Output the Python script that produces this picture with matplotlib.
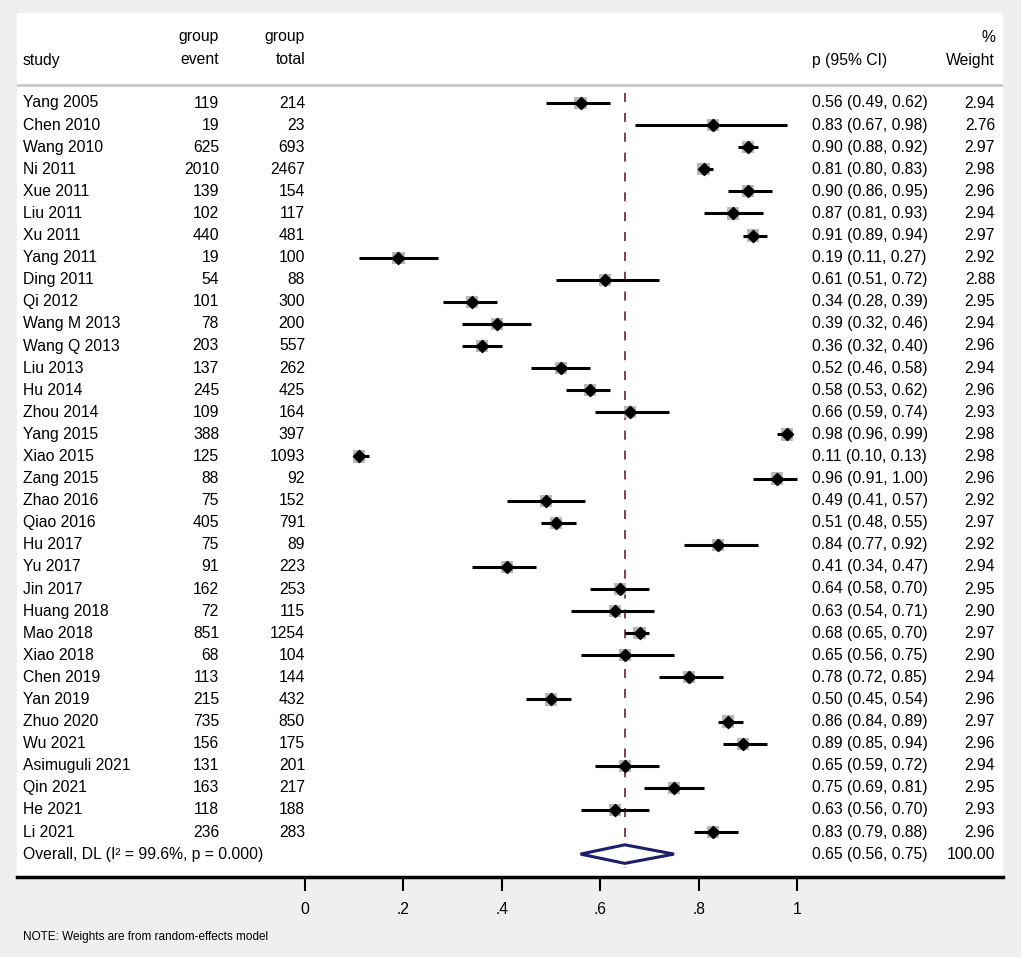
import numpy as np
import matplotlib.pyplot as plt
import matplotlib.transforms as mtransforms
from matplotlib.patches import Polygon

plt.rcParams['font.family'] = ['Liberation Sans', 'DejaVu Sans']

# ---- data ----
studies = ['Yang 2005', 'Chen 2010', 'Wang 2010', 'Ni 2011', 'Xue 2011', 'Liu 2011',
           'Xu 2011', 'Yang 2011', 'Ding 2011', 'Qi 2012', 'Wang M 2013', 'Wang Q 2013',
           'Liu 2013', 'Hu 2014', 'Zhou 2014', 'Yang 2015', 'Xiao 2015', 'Zang 2015',
           'Zhao 2016', 'Qiao 2016', 'Hu 2017', 'Yu 2017', 'Jin 2017', 'Huang 2018',
           'Mao 2018', 'Xiao 2018', 'Chen 2019', 'Yan 2019', 'Zhuo 2020', 'Wu 2021',
           'Asimuguli 2021', 'Qin 2021', 'He 2021', 'Li 2021']
events = [119, 19, 625, 2010, 139, 102, 440, 19, 54, 101, 78, 203, 137, 245, 109, 388,
          125, 88, 75, 405, 75, 91, 162, 72, 851, 68, 113, 215, 735, 156, 131, 163, 118, 236]
totals = [214, 23, 693, 2467, 154, 117, 481, 100, 88, 300, 200, 557, 262, 425, 164, 397,
          1093, 92, 152, 791, 89, 223, 253, 115, 1254, 104, 144, 432, 850, 175, 201, 217, 188, 283]
p_est = [0.56, 0.83, 0.90, 0.81, 0.90, 0.87, 0.91, 0.19, 0.61, 0.34, 0.39, 0.36, 0.52,
         0.58, 0.66, 0.98, 0.11, 0.96, 0.49, 0.51, 0.84, 0.41, 0.64, 0.63, 0.68, 0.65,
         0.78, 0.50, 0.86, 0.89, 0.65, 0.75, 0.63, 0.83]
ci_low = [0.49, 0.67, 0.88, 0.80, 0.86, 0.81, 0.89, 0.11, 0.51, 0.28, 0.32, 0.32, 0.46,
          0.53, 0.59, 0.96, 0.10, 0.91, 0.41, 0.48, 0.77, 0.34, 0.58, 0.54, 0.65, 0.56,
          0.72, 0.45, 0.84, 0.85, 0.59, 0.69, 0.56, 0.79]
ci_high = [0.62, 0.98, 0.92, 0.83, 0.95, 0.93, 0.94, 0.27, 0.72, 0.39, 0.46, 0.40, 0.58,
           0.62, 0.74, 0.99, 0.13, 1.00, 0.57, 0.55, 0.92, 0.47, 0.70, 0.71, 0.70, 0.75,
           0.85, 0.54, 0.89, 0.94, 0.72, 0.81, 0.70, 0.88]
weights = [2.94, 2.76, 2.97, 2.98, 2.96, 2.94, 2.97, 2.92, 2.88, 2.95, 2.94, 2.96, 2.94,
           2.96, 2.93, 2.98, 2.98, 2.96, 2.92, 2.97, 2.92, 2.94, 2.95, 2.90, 2.97, 2.90,
           2.94, 2.96, 2.97, 2.96, 2.94, 2.95, 2.93, 2.96]
overall_label = 'Overall, DL (I\u00b2 = 99.6%, p = 0.000)'
overall_est, overall_low, overall_high = 0.65, 0.56, 0.75
overall_weight = 100.00
x_ticks = [0, 0.2, 0.4, 0.6, 0.8, 1.0]
x_tick_labels = ['0', '.2', '.4', '.6', '.8', '1']

W, H = 1021, 957
fig = plt.figure(figsize=(W / 100, H / 100), dpi=100, facecolor='#efefef')

# white panel in pixel terms: x 17..1003, y 13..877 (from top)
px0, px1, py0, py1 = 17, 1003, 13, 877
ax = fig.add_axes([px0 / W, 1 - py1 / H, (px1 - px0) / W, (py1 - py0) / H])
ax.set_facecolor('white')

# x: 0 at pixel 305, 1 at pixel 797
scale = 797 - 305
ax.set_xlim((px0 - 305) / scale, 1 + (px1 - 797) / scale)
# y: row i at pixel 103 + row_h * i
row_h = (832 - 103) / 33
ax.set_ylim((py1 - 103) / row_h, (py0 - 103) / row_h)

rows = np.arange(len(studies))
overall_row = len(studies)

# overall estimate line
ax.plot([overall_est, overall_est], [-0.45, overall_row + 0.65], color='#7a2f45',
        lw=1.3, linestyle=(0, (5, 6)), zorder=1)

# weight boxes
box_ms = 8.8 * np.sqrt(np.array(weights) / 2.94)
ax.scatter(p_est, rows, marker='s', s=box_ms ** 2, color='#b8b8b8', edgecolors='none', zorder=2)
# CIs
ax.hlines(rows, ci_low, ci_high, color='black', lw=2.2, zorder=3)
# point estimates
ax.scatter(p_est, rows, marker='D', s=38, color='black', zorder=4)

# overall diamond
dh = 0.42
diamond = Polygon([[overall_low, overall_row], [overall_est, overall_row - dh],
                   [overall_high, overall_row], [overall_est, overall_row + dh]],
                  closed=True, facecolor='white', edgecolor='#1b1f6b', lw=2.2, zorder=5)
ax.add_patch(diamond)

# header separator
ax.axhline((85 - 103) / row_h, color='#c8c8c8', lw=2, zorder=1)

# text columns (x in axes fraction, y in data rows)
tr = mtransforms.blended_transform_factory(ax.transAxes, ax.transData)
def colx(px):
    return (px - px0) / (px1 - px0)

fs = 11.3
x_study, x_event, x_total, x_ci, x_w = colx(23), colx(219), colx(305), colx(812), colx(995)
y_top, y_mid = (37 - 103) / row_h, (60 - 103) / row_h
ax.text(x_study, y_mid, 'study', transform=tr, ha='left', va='center', fontsize=fs)
ax.text(x_event, y_top, 'group', transform=tr, ha='right', va='center', fontsize=fs)
ax.text(x_event, y_mid, 'event', transform=tr, ha='right', va='center', fontsize=fs)
ax.text(x_total, y_top, 'group', transform=tr, ha='right', va='center', fontsize=fs)
ax.text(x_total, y_mid, 'total', transform=tr, ha='right', va='center', fontsize=fs)
ax.text(x_ci, y_mid, 'p (95% CI)', transform=tr, ha='left', va='center', fontsize=fs)
ax.text(x_w, y_top, '%', transform=tr, ha='right', va='center', fontsize=fs)
ax.text(x_w, y_mid, 'Weight', transform=tr, ha='right', va='center', fontsize=fs)

for i, name in enumerate(studies):
    ax.text(x_study, i, name, transform=tr, ha='left', va='center', fontsize=fs)
    ax.text(x_event, i, str(events[i]), transform=tr, ha='right', va='center', fontsize=fs)
    ax.text(x_total, i, str(totals[i]), transform=tr, ha='right', va='center', fontsize=fs)
    ax.text(x_ci, i, f'{p_est[i]:.2f} ({ci_low[i]:.2f}, {ci_high[i]:.2f})', transform=tr,
            ha='left', va='center', fontsize=fs)
    ax.text(x_w, i, f'{weights[i]:.2f}', transform=tr, ha='right', va='center', fontsize=fs)

ax.text(x_study, overall_row, overall_label, transform=tr, ha='left', va='center', fontsize=fs)
ax.text(x_ci, overall_row, f'{overall_est:.2f} ({overall_low:.2f}, {overall_high:.2f})',
        transform=tr, ha='left', va='center', fontsize=fs)
ax.text(x_w, overall_row, f'{overall_weight:.2f}', transform=tr, ha='right', va='center', fontsize=fs)

# axis styling
for s in ['top', 'left', 'right']:
    ax.spines[s].set_visible(False)
ax.spines['bottom'].set_linewidth(2.5)
ax.spines['bottom'].set_color('black')
ax.set_yticks([])
ax.set_xticks(x_ticks)
ax.set_xticklabels(x_tick_labels, fontsize=fs)
ax.tick_params(axis='x', direction='out', length=10, width=1.5, pad=8, color='black')

fig.text(23 / W, 1 - 937 / H, 'NOTE: Weights are from random-effects model',
         ha='left', va='center', fontsize=8.5)

fig.savefig('out.png', dpi=100, facecolor=fig.get_facecolor())
